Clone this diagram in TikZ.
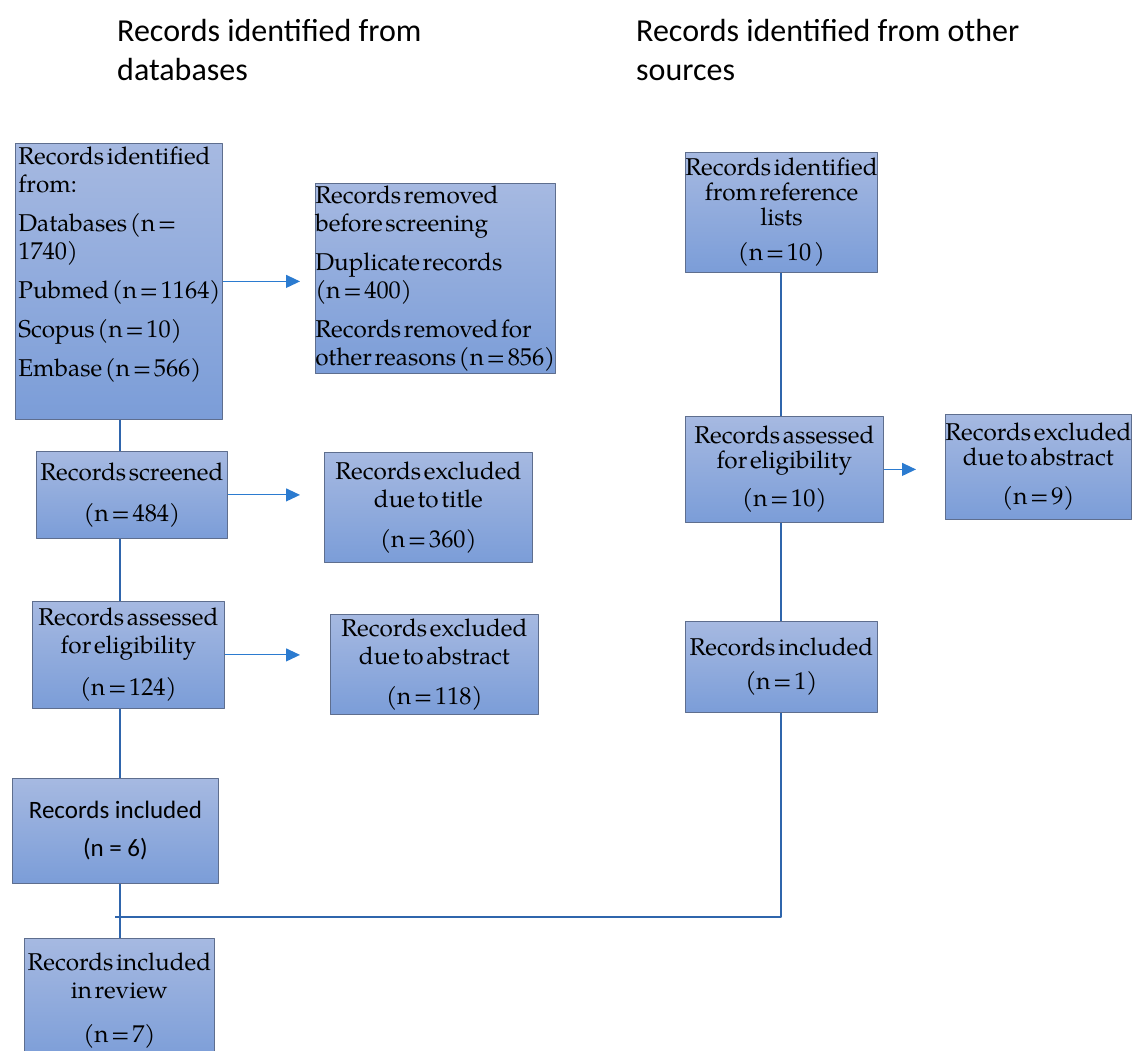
\documentclass[tikz,border=0pt]{standalone}
\usepackage{fontspec}
\setmainfont{TeX Gyre Pagella}
\newfontfamily\calibri{Carlito}
\usetikzlibrary{arrows.meta}
\definecolor{boxtop}{HTML}{A6B9E1}
\definecolor{boxbot}{HTML}{7B9DD8}
\definecolor{boxedge}{HTML}{5E6E8E}
\definecolor{spine}{HTML}{2F65AC}
\definecolor{arrowblue}{HTML}{2B7BD0}
\newcommand{\boxfont}{\fontsize{24.3}{28}\selectfont\spaceskip=0.11em\relax}
\newcommand{\tightfont}{\fontsize{24.3}{25}\selectfont\spaceskip=0.11em\relax}
\newcommand{\headfont}{\calibri\fontsize{32}{39}\selectfont}
\tikzset{
  every picture/.style={line join=round, >=Stealth},
  prisma/.style={draw=boxedge, line width=0.8pt, top color=boxtop, bottom color=boxbot,
    anchor=north west, inner sep=0pt, align=center, font=\boxfont},
  tight/.style={font=\tightfont},
  link/.style={draw=spine, line width=1.6pt},
  exit/.style={draw=arrowblue, line width=1.1pt, -{Triangle[length=14pt,width=13pt]}},
  heading/.style={anchor=base west, align=left, inner sep=0pt, font=\headfont},
}
\begin{document}
\begin{tikzpicture}[x=1pt, y=-1pt]
    \path[fill=white, use as bounding box] (0,0) rectangle (1134,1050);

    % Column headings (anchored on the last line)
    \node[heading] (hdb) at (117,80) {Records identified from\\databases};
    \node[heading] (hother) at (636,80) {Records identified from other\\sources};

    % Databases column
    \node[prisma, inner sep=3pt] (ident) at (15,143)
        {\parbox[t][270pt][t]{201pt}{\raggedright Records identified\\ from:\\[11pt]
         Databases (n =\\ 1740)\\[11pt] \mbox{Pubmed (n = 1164)}\\[11pt] Scopus (n = 10)\\[11pt]
         Embase (n = 566)}};
    \node[prisma, align=left, minimum width=237pt, minimum height=190pt] (removed) at (315,183)
        {Records removed\\ before screening\\[11pt] Duplicate records\\ (n = 400)\\[11pt]
         Records removed for\\ other reasons (n = 856)};
    \node[prisma, minimum width=191pt, minimum height=87pt] (scr) at (36,451)
        {Records screened\\[13pt] (n = 484)};
    \node[prisma, minimum width=208pt, minimum height=110pt] (title) at (324,452)
        {Records excluded\\ due to title\\[12pt] (n = 360)};
    \node[prisma, minimum width=192pt, minimum height=107pt] (assess) at (32,601)
        {Records assessed\\ for eligibility\\[14pt] (n = 124)};
    \node[prisma, minimum width=208pt, minimum height=100pt] (abstract) at (330,614)
        {Records excluded\\ due to abstract\\[12pt] (n = 118)};
    \node[prisma, minimum width=206pt, minimum height=105pt,
          font=\calibri\fontsize{25}{30}\selectfont] (inc) at (12,778)
        {Records included\\[8pt] (n = 6)};
    \node[prisma, minimum width=190pt, minimum height=124pt] (review) at (24,938)
        {Records included\\ in review\\[16pt] (n = 7)};

    % Other sources column
    \node[prisma, tight, minimum width=191pt, minimum height=120pt] (rref) at (685,152)
        {Records identified\\ from reference\\ lists\\[10pt] (n = 10 )};
    \node[prisma, tight, minimum width=198pt, minimum height=106pt] (rassess) at (685,416)
        {Records assessed\\ for eligibility\\[13pt] (n = 10)};
    \node[prisma, tight, minimum width=184pt, minimum height=105pt] (excl) at (945,414)
        {Records excluded\\ due to abstract\\[14pt] (n = 9)};
    \node[prisma, tight, minimum width=192pt, minimum height=91pt] (rinc) at (685,621)
        {Records included\\[9pt] (n = 1)};

    % spines and tips
    \coordinate (lspine) at (120,0);
    \coordinate (rspine) at (781,0);
    \coordinate (ltip) at (300,0);
    \coordinate (rtip) at (916,0);
    \coordinate (join) at (115,917);

    \draw[link] (ident.south -| lspine) -- (scr.north -| lspine);
    \draw[link] (scr.south -| lspine) -- (assess.north -| lspine);
    \draw[link] (assess.south -| lspine) -- (inc.north -| lspine);
    \draw[link] (inc.south -| lspine) -- (review.north -| lspine);
    \draw[link] (rref.south -| rspine) -- (rassess.north -| rspine);
    \draw[link] (rassess.south -| rspine) -- (rinc.north -| rspine);
    \draw[link] (rinc.south -| rspine) |- (join);

    % exclusion arrows
    \draw[exit] (ident.east) -- (ident.east -| ltip);
    \draw[exit] (scr.east) -- (scr.east -| ltip);
    \draw[exit] (assess.east) -- (assess.east -| ltip);
    \draw[exit] (rassess.east) -- (rassess.east -| rtip);
\end{tikzpicture}
\end{document}
